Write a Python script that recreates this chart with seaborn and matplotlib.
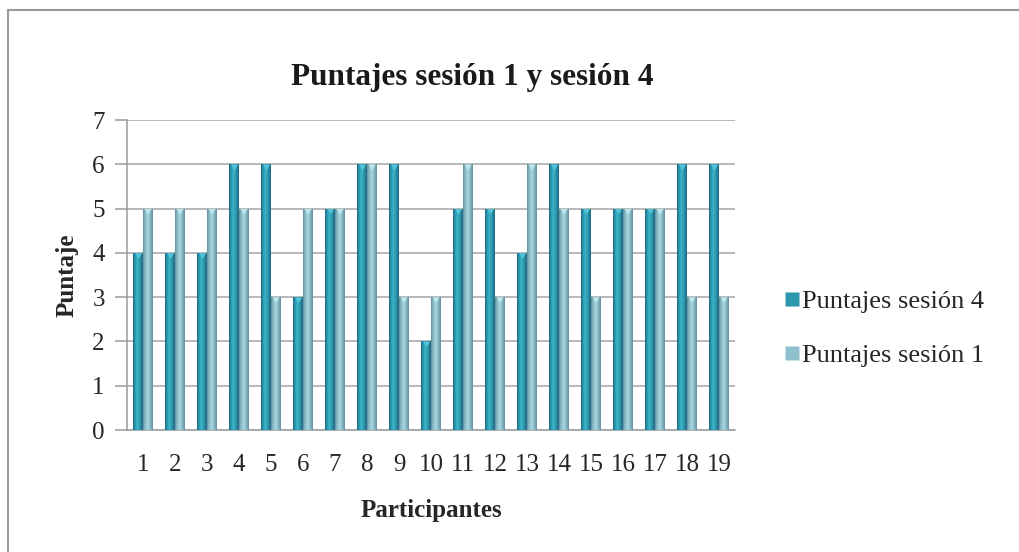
import numpy as np
import pandas as pd
import matplotlib
matplotlib.use("Agg")
import matplotlib.pyplot as plt
from matplotlib.lines import Line2D
from matplotlib.colors import LinearSegmentedColormap
import seaborn as sns

participantes = [str(i) for i in range(1, 20)]
sesion4 = [4, 4, 4, 6, 6, 3, 5, 6, 6, 2, 5, 5, 4, 6, 5, 5, 5, 6, 6]
sesion1 = [5, 5, 5, 5, 3, 5, 5, 6, 3, 3, 6, 3, 6, 5, 3, 5, 5, 3, 3]
series = ["Puntajes sesión 4", "Puntajes sesión 1"]

df = pd.DataFrame({
    "Participantes": participantes * 2,
    "Puntaje": sesion4 + sesion1,
    "Serie": [series[0]] * len(sesion4) + [series[1]] * len(sesion1),
})

sns.set_theme(style="white")
plt.rcParams["font.family"] = ["Liberation Serif", "DejaVu Serif"]

base_colors = {series[0]: "#2b97ad", series[1]: "#8fc0cd"}
shades = {
    series[0]: ["#17657a", "#2fa3ba", "#3bb3c9", "#2a8ea4", "#1a6b80"],
    series[1]: ["#5f8d9b", "#93c3d0", "#a9d6e2", "#86b3c0", "#62909e"],
}
cap_colors = {series[0]: "#56c6da", series[1]: "#bfe6ef"}

fig = plt.figure(figsize=(10.2, 5.52), dpi=100)
ax = fig.add_axes([0.1245, 0.221, 0.596, 0.5616])

sns.barplot(data=df, x="Participantes", y="Puntaje", hue="Serie",
            palette=base_colors, width=0.6, dodge=True, ax=ax,
            saturation=1, legend=False, zorder=3)

# cylinder-like horizontal shading on each bar, with a light top cap
grad = np.linspace(0, 1, 64).reshape(1, -1)
for cont, name in zip(ax.containers, series):
    cmap = LinearSegmentedColormap.from_list(name, shades[name])
    for p in cont.patches:
        x0, y0 = p.get_x(), p.get_y()
        w, h = p.get_width(), p.get_height()
        p.set_edgecolor("none")
        im = ax.imshow(grad, cmap=cmap, aspect="auto",
                       extent=(x0, x0 + w, y0, y0 + h), zorder=4,
                       interpolation="bicubic")
        im.set_clip_path(p)
        ax.fill_between([x0 + 0.15 * w, x0 + 0.5 * w, x0 + 0.85 * w],
                        [y0 + h] * 3, [y0 + h, y0 + h - 0.12, y0 + h],
                        color=cap_colors[name], lw=0, zorder=5)

ax.set_xlim(-0.5, len(participantes) - 0.5)
ax.set_ylim(0, 7)
ax.set_yticks(range(0, 8))
ax.yaxis.grid(True, color="#a6a6a6", linewidth=1.1, zorder=0)
ax.set_axisbelow(True)

for side in ["top", "right"]:
    ax.spines[side].set_visible(False)
for side in ["left", "bottom"]:
    ax.spines[side].set_color("#9a9a9a")
    ax.spines[side].set_linewidth(1.1)

ax.tick_params(axis="y", which="major", left=True, length=9, width=1.1,
               color="#9a9a9a", labelsize=18, pad=7)
ax.tick_params(axis="x", bottom=False, labelsize=18, pad=11)

ax.set_xlabel("Participantes", fontsize=18, fontweight="bold", labelpad=17)
ax.set_ylabel("Puntaje", fontsize=18, fontweight="bold", labelpad=10)
fig.text(472 / 1020, 1 - 77 / 552, "Puntajes sesión 1 y sesión 4",
         fontsize=22.5, fontweight="bold", ha="center", va="center",
         color="#1a1a1a")

handles = [Line2D([], [], marker="s", linestyle="none", markersize=10,
                  markerfacecolor=base_colors[s], markeredgecolor="none")
           for s in series]
fig.legend(handles, series, loc="center left", bbox_to_anchor=(0.757, 0.405),
           frameon=False, fontsize=19, handletextpad=0.05,
           handlelength=0.7, labelspacing=1.15, borderaxespad=0)

# outer chart frame (top and left edges visible)
fig.add_artist(Line2D([8 / 1020, 1.0], [1 - 10 / 552] * 2,
                      transform=fig.transFigure, color="#999999", lw=1.5))
fig.add_artist(Line2D([8 / 1020] * 2, [0.0, 1 - 10 / 552],
                      transform=fig.transFigure, color="#999999", lw=1.5))

fig.savefig("out.png", dpi=100, facecolor="white")
